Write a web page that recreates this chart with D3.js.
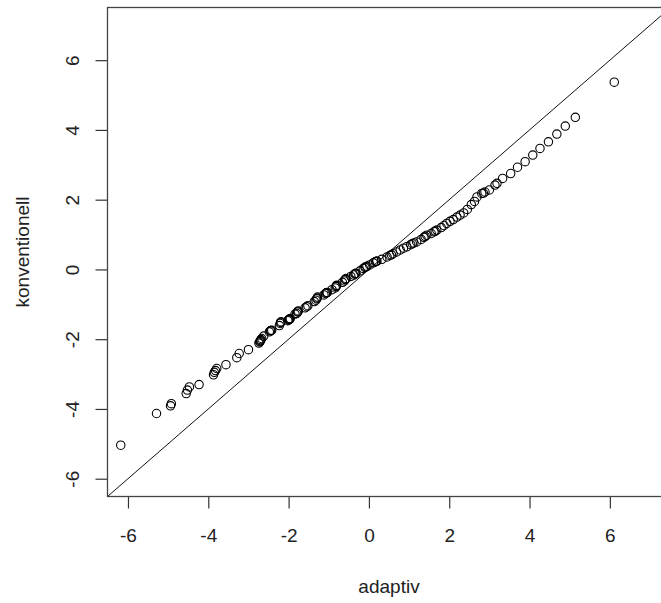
<!DOCTYPE html>
<html>
<head>
<meta charset="utf-8">
<script src="https://cdn.jsdelivr.net/npm/d3@7"></script>
<style>
  html, body { margin: 0; padding: 0; background: #fff; }
  svg { display: block; }
  text { font-family: "Liberation Sans", Arial, sans-serif; fill: #222; }
</style>
</head>
<body>
<div id="chart"></div>
<script>
// Sorted quantiles of the two methods (Q-Q plot)
const adaptiv = [
  -6.18, -5.29, -4.94, -4.92, -4.55, -4.52, -4.47, -4.23, -3.87, -3.85,
  -3.82, -3.79, -3.56, -3.29, -3.23, -3.00, -2.74, -2.72, -2.71, -2.70, -2.69, -2.67,
  -2.62, -2.48, -2.45, -2.44, -2.42, -2.23, -2.21, -2.20, -2.19, -2.02, -2.00, -1.99, -1.98, -1.97,
  -1.96, -1.84, -1.80, -1.78, -1.77, -1.76, -1.59, -1.55, -1.52, -1.36, -1.32,
  -1.30, -1.29, -1.28, -1.12, -1.08, -1.06, -1.05, -1.04, -0.92, -0.84, -0.82, -0.81, -0.80,
  -0.66, -0.61, -0.59, -0.58, -0.57, -0.45, -0.38, -0.35, -0.34, -0.32, -0.22, -0.14,
  -0.10, -0.08, -0.05, 0.02, 0.11, 0.16, 0.18, 0.20, 0.32, 0.45, 0.52, 0.56, 0.60,
  0.69, 0.78, 0.86, 0.94, 1.04, 1.08, 1.12, 1.19, 1.30, 1.37, 1.40, 1.44,
  1.55, 1.62, 1.65, 1.69, 1.80, 1.87, 1.94, 2.02, 2.10, 2.19, 2.27,
  2.36, 2.45, 2.55, 2.63, 2.69, 2.81, 2.85, 2.89, 3.00, 3.14, 3.19,
  3.33, 3.53, 3.70, 3.89, 4.08, 4.26, 4.47, 4.68, 4.89, 5.14, 6.11
];
const konventionell = [
  -5.04, -4.13, -3.91, -3.85, -3.56, -3.46, -3.37, -3.30, -3.02, -2.95,
  -2.90, -2.84, -2.73, -2.53, -2.41, -2.30, -2.11, -2.08, -2.06, -2.04, -2.01, -1.98,
  -1.91, -1.79, -1.76, -1.75, -1.74, -1.61, -1.55, -1.52, -1.50, -1.47, -1.45, -1.44, -1.43, -1.42,
  -1.41, -1.28, -1.26, -1.22, -1.21, -1.19, -1.10, -1.07, -1.04, -0.92, -0.88,
  -0.84, -0.82, -0.79, -0.73, -0.69, -0.67, -0.665, -0.66, -0.58, -0.53, -0.49, -0.47, -0.45,
  -0.37, -0.33, -0.29, -0.28, -0.26, -0.20, -0.16, -0.13, -0.12, -0.11, -0.04, 0.03,
  0.06, 0.07, 0.09, 0.13, 0.19, 0.22, 0.23, 0.24, 0.29, 0.36, 0.40, 0.42, 0.45,
  0.50, 0.56, 0.61, 0.65, 0.71, 0.74, 0.76, 0.79, 0.86, 0.92, 0.95, 0.98,
  1.03, 1.08, 1.10, 1.13, 1.20, 1.26, 1.32, 1.38, 1.43, 1.50, 1.56,
  1.62, 1.72, 1.86, 1.95, 2.08, 2.18, 2.19, 2.22, 2.28, 2.42, 2.47,
  2.61, 2.75, 2.93, 3.09, 3.28, 3.47, 3.66, 3.88, 4.11, 4.36, 5.37
];
const tickValues = [-6, -4, -2, 0, 2, 4, 6];
const axisLimits = [-6.51, 7.51];
const xTitle = "adaptiv";
const yTitle = "konventionell";

const W = 661, H = 603;
const plot = { left: 107.5, top: 7.5, right: 670.5, bottom: 496.5 };
const fontSize = 19;
const plainNumber = d => String(d);   // ASCII hyphen for negatives

const svg = d3.select("#chart").append("svg")
  .attr("width", W).attr("height", H);

const x = d3.scaleLinear().domain(axisLimits).range([plot.left, plot.right]);
const y = d3.scaleLinear().domain(axisLimits).range([plot.bottom, plot.top]);

svg.append("defs").append("clipPath").attr("id", "plotClip")
  .append("rect")
  .attr("x", plot.left).attr("y", plot.top)
  .attr("width", plot.right - plot.left).attr("height", plot.bottom - plot.top);

const inner = svg.append("g").attr("clip-path", "url(#plotClip)");

// reference line y = x
inner.append("line")
  .attr("x1", x(axisLimits[0])).attr("y1", y(axisLimits[0]))
  .attr("x2", x(axisLimits[1])).attr("y2", y(axisLimits[1]))
  .attr("stroke", "#111").attr("stroke-width", 1);

// quantile pairs as open circles
const pairs = adaptiv.map((a, i) => ({ a, k: konventionell[i] }));
inner.selectAll("circle.pt").data(pairs).enter().append("circle")
  .attr("class", "pt")
  .attr("cx", d => x(d.a)).attr("cy", d => y(d.k))
  .attr("r", 4.2)
  .attr("fill", "none").attr("stroke", "#000").attr("stroke-width", 1.1);

// axes
const xAxis = d3.axisBottom(x).tickValues(tickValues).tickSize(12).tickPadding(20)
  .tickFormat(plainNumber);
const gx = svg.append("g").attr("transform", `translate(0,${plot.bottom})`).call(xAxis);
gx.select(".domain").remove();
gx.selectAll(".tick line").attr("stroke", "#333").attr("stroke-width", 1.2);
gx.selectAll(".tick text")
  .attr("font-size", fontSize).attr("font-family", "Liberation Sans, Arial, sans-serif")
  .attr("fill", "#222").attr("dy", "0.71em");

const yAxis = d3.axisLeft(y).tickValues(tickValues).tickSize(12).tickPadding(5)
  .tickFormat(plainNumber);
const gy = svg.append("g").attr("transform", `translate(${plot.left},0)`).call(yAxis);
gy.select(".domain").remove();
gy.selectAll(".tick line").attr("stroke", "#333").attr("stroke-width", 1.2);
gy.selectAll(".tick text")
  .attr("font-size", fontSize).attr("font-family", "Liberation Sans, Arial, sans-serif")
  .attr("fill", "#222")
  .attr("x", null).attr("dy", null)
  .attr("text-anchor", "middle")
  .attr("transform", "translate(-29,0) rotate(-90)");

// plot frame
svg.append("rect")
  .attr("x", plot.left).attr("y", plot.top)
  .attr("width", plot.right - plot.left).attr("height", plot.bottom - plot.top)
  .attr("fill", "none").attr("stroke", "#444").attr("stroke-width", 1.3);

// axis titles
svg.append("text")
  .attr("x", (plot.left + plot.right) / 2).attr("y", 593)
  .attr("text-anchor", "middle").attr("font-size", fontSize)
  .text(xTitle);

svg.append("text")
  .attr("transform", `translate(29,${(plot.top + plot.bottom) / 2}) rotate(-90)`)
  .attr("text-anchor", "middle").attr("font-size", fontSize)
  .text(yTitle);
</script>
</body>
</html>
